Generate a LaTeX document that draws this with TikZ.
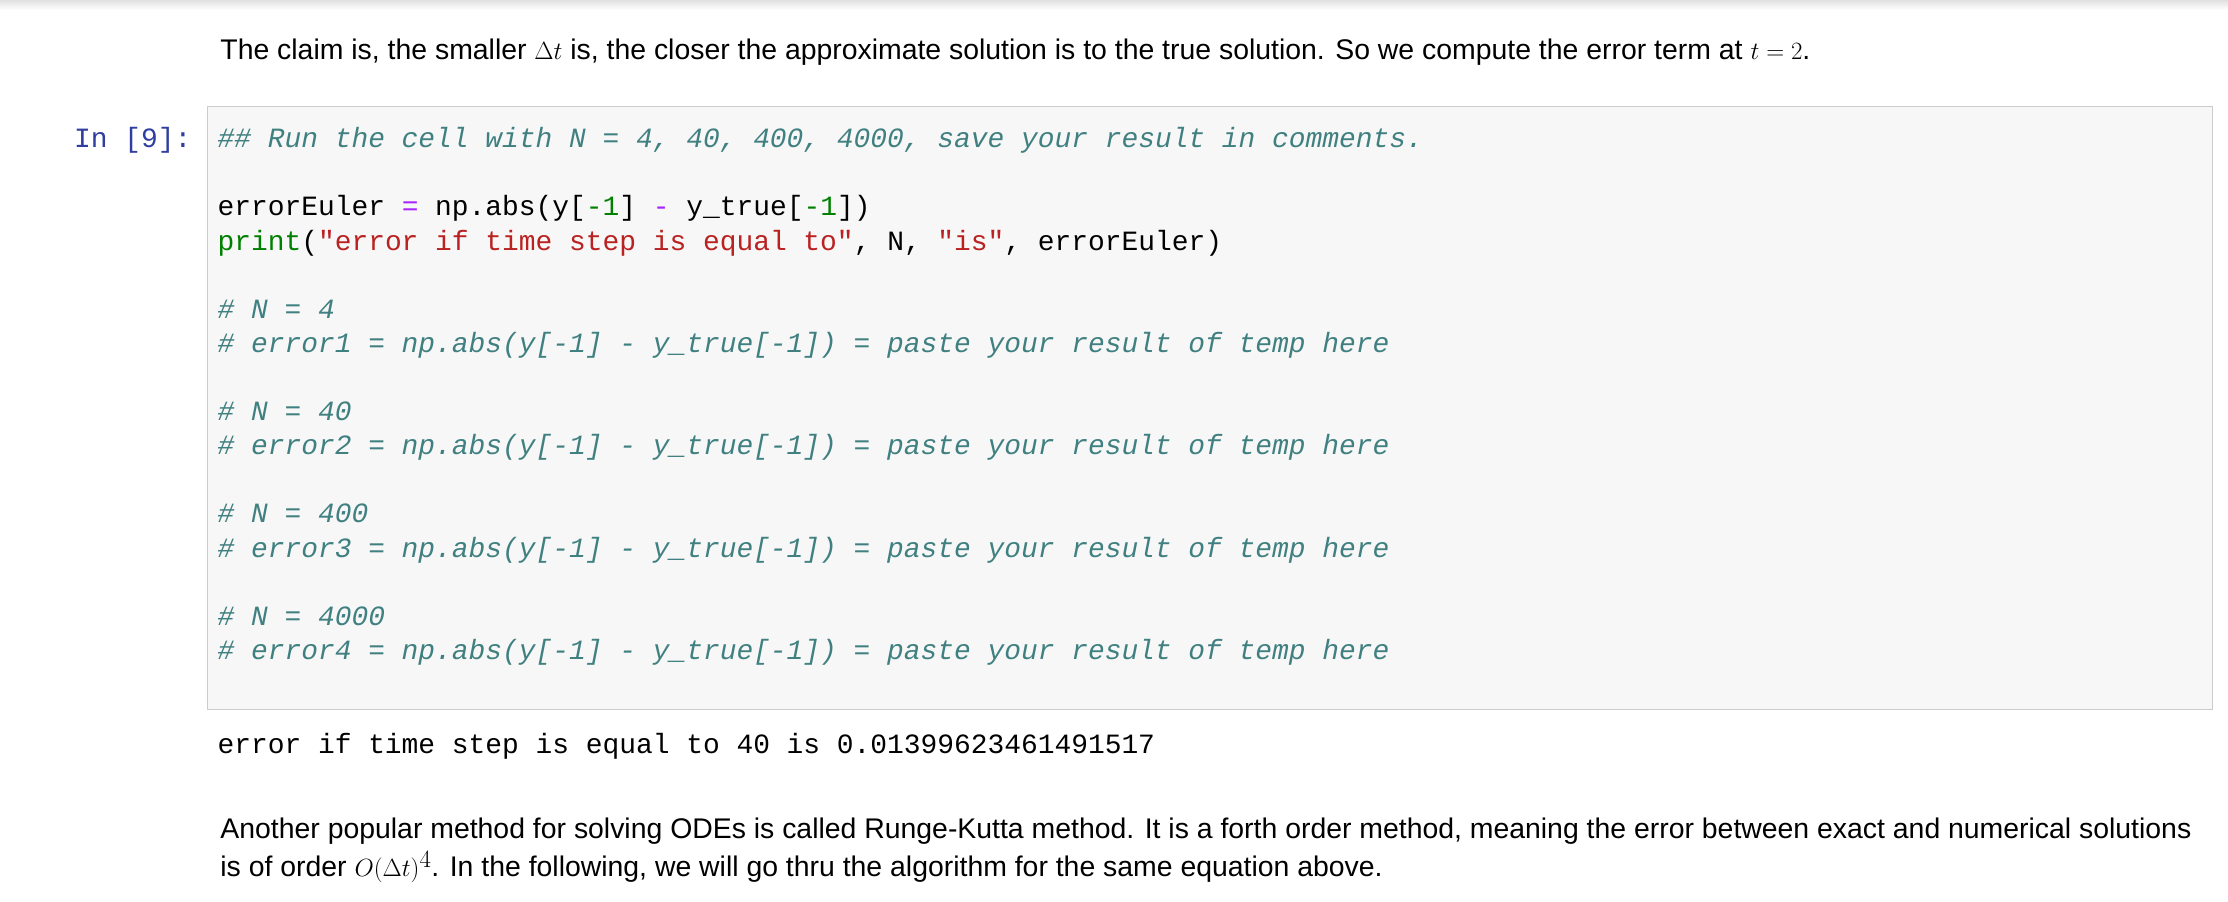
\documentclass[tikz,border=0pt]{standalone}
\usepackage{fontspec}
\setmainfont{Liberation Sans}
\setmonofont{Liberation Mono}
\definecolor{cmt}{HTML}{408080}
\definecolor{op}{HTML}{AA22FF}
\definecolor{num}{HTML}{008000}
\definecolor{str}{HTML}{BA2121}
\definecolor{inp}{HTML}{303F9F}
\newcommand{\cm}[1]{\textcolor{cmt}{\itshape #1}}
\newcommand{\eq}{\textcolor{op}{=}}
\newcommand{\nm}[1]{\textcolor{num}{#1}}
\newcommand{\bm}[1]{{\fontsize{33}{33}\selectfont$#1$}}
\begin{document}
\begin{tikzpicture}[x=1.421pt,y=-1.421pt,
  prose/.style={anchor=base west,inner sep=0,font=\fontsize{28.4}{33}\selectfont},
  code/.style={anchor=base west,inner sep=0,font=\ttfamily\fontsize{27.9}{33}\selectfont}]
\useasboundingbox (0,0) rectangle (1568,634.8);
\fill[white] (0,0) rectangle (1568,634.8);
\shade[top color=black!12,bottom color=white] (0,0) rectangle (1568,7);
\node[prose] (p1) at (155,42) {The claim is, the smaller \bm{\Delta t} is, the closer the approximate solution is to the true solution. So we compute the error term at \bm{t=2}.};
\node[code,text=inp] (in) at (52,104) {In [9]:};
\draw[fill=black!3,draw=black!20,line width=1pt] (146,75) rectangle (1557,499);
\node[code] (l0) at (153,104) {\cm{\#\# Run the cell with N = 4, 40, 400, 4000, save your result in comments.}};
\node[code] (l1) at (153,152) {errorEuler \eq{} np.abs(y[\nm{-1}] \textcolor{op}{-} y\_true[\nm{-1}])};
\node[code] (l2) at (153,176) {\textcolor{num}{print}(\textcolor{str}{"error if time step is equal to"}, N, \textcolor{str}{"is"}, errorEuler)};
\foreach \n/\y/\k in {4/224/1,40/296/2,400/368/3,4000/440/4}{
  \node[code] at (153,\y) {\cm{\# N = \n}};
  \node[code] at (153,\y+24) {\cm{\# error\k{} = np.abs(y[-1] - y\_true[-1]) = paste your result of temp here}};
}
\node[code] (out) at (153,530) {error if time step is equal to 40 is 0.01399623461491517};
\node[prose] (p2) at (155,590) {Another popular method for solving ODEs is called Runge-Kutta method. It is a forth order method, meaning the error between exact and numerical solutions};
\node[prose] (p3) at (155,617) {is of order \bm{O(\Delta t)^4}. In the following, we will go thru the algorithm for the same equation above.};
\end{tikzpicture}
\end{document}
